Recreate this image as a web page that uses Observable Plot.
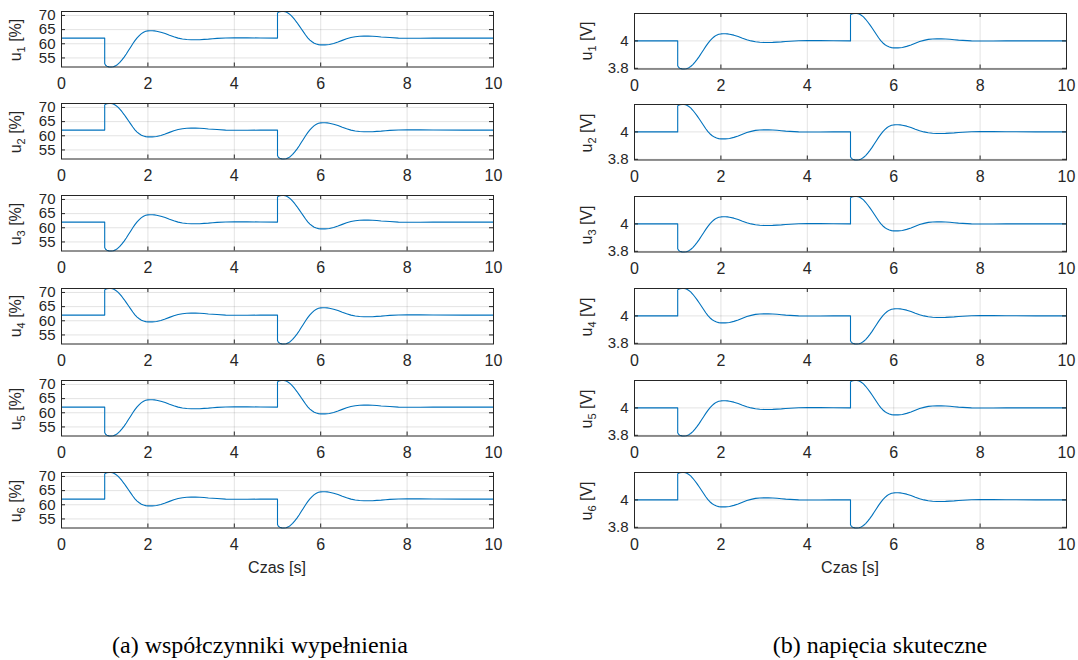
<!DOCTYPE html>
<html>
<head>
<meta charset="utf-8">
<script src="https://cdn.jsdelivr.net/npm/d3@7"></script>
<script src="https://cdn.jsdelivr.net/npm/@observablehq/plot@0.6"></script>
<style>
  body { margin: 0; background: #fff; }
  #root { position: relative; width: 1078px; height: 660px; background: #fff; overflow: hidden;
          font-family: "Liberation Sans", Arial, Helvetica, sans-serif; color: #262626; }
  .panel { position: absolute; }
  .ylab { position: absolute; transform: translate(-50%, -50%) rotate(-90deg); white-space: nowrap;
          font-size: 16px; line-height: 16px; color: #262626; }
  .ylab sub { font-size: 11px; vertical-align: -4px; line-height: 0; }
  .xlab { position: absolute; transform: translate(-50%, -50%); white-space: nowrap; font-size: 16px; color: #262626; }
  .cap { position: absolute; transform: translate(-50%, 0); white-space: nowrap;
         font-family: "Liberation Serif", "Times New Roman", serif; font-size: 24px; line-height: 26px; color: #000; }
</style>
</head>
<body>
<div id="root"></div>
<script>
// ---------- data ----------
// sample times [s]
const time = [0,
  1, 1, 1.02, 1.05, 1.1, 1.15, 1.2, 1.25, 1.3, 1.35, 1.4, 1.45, 1.5, 1.55, 1.6, 1.65, 1.7, 1.75, 1.8, 1.85, 1.9, 1.95,
  2, 2.05, 2.1, 2.15, 2.2, 2.3, 2.4, 2.5, 2.6, 2.7, 2.8, 2.9, 3, 3.1, 3.2, 3.3, 3.4, 3.5, 3.6, 3.8, 4, 4.3, 4.6,
  5, 5, 5.02, 5.05, 5.1, 5.15, 5.2, 5.25, 5.3, 5.35, 5.4, 5.45, 5.5, 5.55, 5.6, 5.65, 5.7, 5.75, 5.8, 5.85, 5.9, 5.95,
  6, 6.05, 6.1, 6.15, 6.2, 6.3, 6.4, 6.5, 6.6, 6.7, 6.8, 6.9, 7, 7.1, 7.2, 7.3, 7.4, 7.5, 7.6, 7.8, 8, 8.3, 8.6,
  9.3, 10];

// duty-cycle response segments [%] (step down / step up)
const pctDown = [62.0, 53.0, 52.4, 52.1, 51.85, 51.8, 51.9, 52.2, 52.7, 53.4, 54.3, 55.3, 56.4, 57.6, 58.8, 60.0, 61.1,
  62.1, 62.9, 63.6, 64.1, 64.4, 64.55, 64.6, 64.6, 64.55, 64.45, 64.1, 63.6, 63.0, 62.45, 62.0, 61.7, 61.5, 61.4, 61.4,
  61.45, 61.55, 61.65, 61.8, 61.9, 62.05, 62.1, 62.1, 62.05];
const pctUp = [62.0, 70.9, 71.1, 71.3, 71.4, 71.4, 71.2, 70.8, 70.2, 69.4, 68.5, 67.5, 66.4, 65.3, 64.2, 63.1, 62.1,
  61.3, 60.7, 60.2, 59.9, 59.7, 59.6, 59.6, 59.6, 59.65, 59.75, 60.1, 60.6, 61.2, 61.75, 62.2, 62.5, 62.65, 62.7, 62.7,
  62.65, 62.55, 62.4, 62.3, 62.2, 62.0, 61.95, 61.95, 62.0];

// RMS voltage response segments [V]
const vDown = [4.000, 3.819, 3.807, 3.801, 3.796, 3.795, 3.797, 3.803, 3.813, 3.827, 3.845, 3.865, 3.887, 3.912, 3.936,
  3.960, 3.982, 4.002, 4.018, 4.032, 4.042, 4.048, 4.051, 4.052, 4.052, 4.051, 4.049, 4.042, 4.032, 4.020, 4.009, 4.000,
  3.994, 3.990, 3.988, 3.988, 3.989, 3.991, 3.993, 3.996, 3.998, 4.001, 4.002, 4.002, 4.001];
const vUp = [4.000, 4.190, 4.194, 4.198, 4.200, 4.200, 4.196, 4.187, 4.175, 4.158, 4.138, 4.117, 4.094, 4.070, 4.047,
  4.023, 4.002, 3.985, 3.972, 3.962, 3.955, 3.951, 3.949, 3.949, 3.949, 3.950, 3.952, 3.960, 3.970, 3.983, 3.995, 4.004,
  4.011, 4.014, 4.015, 4.015, 4.014, 4.012, 4.009, 4.006, 4.004, 4.000, 3.999, 3.999, 4.000];

// full series: A = down at 1 s, up at 5 s ; B = up at 1 s, down at 5 s
const pctA = [62.0, ...pctDown, ...pctUp, 62.0, 62.0];
const pctB = [62.0, ...pctUp, ...pctDown, 62.0, 62.0];
const vA = [4.0, ...vDown, ...vUp, 4.0, 4.0];
const vB = [4.0, ...vUp, ...vDown, 4.0, 4.0];

const seriesPct = [pctA, pctB, pctA, pctB, pctA, pctB];   // u1..u6 duty cycles
const seriesV   = [vA, vB, vA, vB, vA, vB];               // u1..u6 RMS voltages

const xTicks = [0, 2, 4, 6, 8, 10];
const pctTicks = [55, 60, 65, 70];
const vTicks = [3.8, 4];
const names = ["1", "2", "3", "4", "5", "6"];
const xLabel = "Czas [s]";
const captions = ["(a) współczynniki wypełnienia", "(b) napięcia skuteczne"];

// ---------- layout ----------
const root = document.getElementById("root");
const W = 432, H = 55.5, ML = 61, MR = 16, MT = 8, MB = 30;
const colLeft = [61, 634];
const rowTop = [[11, 103.2, 195.4, 287.6, 379.8, 472], [12.5, 104.4, 196.3, 288.2, 380.1, 472]];
const GRID = "#262626";

function panel(series, yTicks, yFmt) {
  const data = time.map((t, i) => ({t, v: series[i]}));
  return Plot.plot({
    width: ML + W + MR, height: MT + H + MB,
    marginLeft: ML, marginRight: MR, marginTop: MT, marginBottom: MB,
    style: {background: "transparent", overflow: "visible", color: "#262626",
            fontFamily: '"Liberation Sans", Arial, Helvetica, sans-serif', fontSize: "16px"},
    x: {domain: [0, 10]},
    y: {domain: d3.extent(series)},
    marks: [
      Plot.gridX(xTicks, {stroke: GRID, strokeOpacity: 0.13}),
      Plot.gridY(yTicks, {stroke: GRID, strokeOpacity: 0.13}),
      Plot.line(data, {x: "t", y: "v", stroke: "#0072BD", strokeWidth: 1.1}),
      Plot.axisX(xTicks, {tickSize: 0, tickPadding: 11, fontSize: 16, label: null}),
      Plot.axisY(yTicks, {tickSize: 0, tickPadding: 6, fontSize: 15, tickFormat: yFmt, label: null}),
      Plot.tickX(xTicks, {x: d => d, insetTop: H - 4, stroke: GRID}),
      Plot.tickX(xTicks, {x: d => d, insetBottom: H - 4, stroke: GRID}),
      Plot.tickY(yTicks, {y: d => d, insetRight: W - 4, stroke: GRID}),
      Plot.tickY(yTicks, {y: d => d, insetLeft: W - 4, stroke: GRID}),
      Plot.frame({stroke: GRID, strokeWidth: 1})
    ]
  });
}

for (let c = 0; c < 2; c++) {
  for (let r = 0; r < 6; r++) {
    const el = c === 0 ? panel(seriesPct[r], pctTicks, d => String(d))
                       : panel(seriesV[r], vTicks, d3.format("~g"));
    el.classList.add("panel");
    el.style.left = (colLeft[c] - ML) + "px";
    el.style.top = (rowTop[c][r] - MT) + "px";
    root.appendChild(el);
    const lab = document.createElement("div");
    lab.className = "ylab";
    lab.innerHTML = "u<sub>" + names[r] + "</sub> [" + (c === 0 ? "%" : "V") + "]";
    lab.style.left = (c === 0 ? 16 : 587) + "px";
    lab.style.top = (rowTop[c][r] + H / 2 + 1) + "px";
    root.appendChild(lab);
  }
  const xl = document.createElement("div");
  xl.className = "xlab";
  xl.textContent = xLabel;
  xl.style.left = (colLeft[c] + W / 2) + "px";
  xl.style.top = "568px";
  root.appendChild(xl);
  const cap = document.createElement("div");
  cap.className = "cap";
  cap.textContent = captions[c];
  cap.style.left = (c === 0 ? 260 : 880) + "px";
  cap.style.top = "632px";
  root.appendChild(cap);
}
</script>
</body>
</html>
